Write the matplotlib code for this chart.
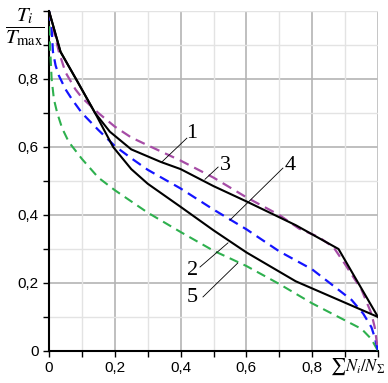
import matplotlib
matplotlib.use("Agg")
import matplotlib.pyplot as plt
from matplotlib.ticker import MultipleLocator, FixedLocator, FuncFormatter

# curve 1 and 2 (solid black), 3 (purple), 4 (blue), 5 (green)
x1 = [0, 0.035, 0.085, 0.14, 0.185, 0.25, 0.34, 0.4, 0.5, 0.6, 0.75, 0.88, 1.0]
y1 = [1.0, 0.88, 0.795, 0.70, 0.645, 0.593, 0.556, 0.535, 0.485, 0.44, 0.37, 0.30, 0.10]

x2 = [0, 0.035, 0.085, 0.14, 0.195, 0.25, 0.3, 0.4, 0.5, 0.6, 0.75, 1.0]
y2 = [1.0, 0.88, 0.795, 0.70, 0.60, 0.535, 0.492, 0.424, 0.355, 0.29, 0.205, 0.10]

x3 = [0, 0.01, 0.02, 0.03, 0.05, 0.08, 0.1, 0.15, 0.2, 0.25, 0.3, 0.4, 0.5, 0.6, 0.7,
      0.76, 0.82, 0.865, 0.9, 0.95, 0.98, 0.99, 1.0]
y3 = [1.0, 0.96, 0.92, 0.88, 0.82, 0.77, 0.745, 0.70, 0.66, 0.628, 0.605, 0.56, 0.51,
      0.452, 0.40, 0.36, 0.335, 0.305, 0.255, 0.18, 0.11, 0.07, 0.0]

x4 = [0, 0.008, 0.012, 0.02, 0.03, 0.05, 0.07, 0.1, 0.15, 0.2, 0.25, 0.3, 0.4, 0.5,
      0.6, 0.7, 0.8, 0.88, 0.92, 0.955, 0.98, 0.99, 1.0]
y4 = [1.0, 0.95, 0.88, 0.84, 0.81, 0.77, 0.74, 0.70, 0.65, 0.603, 0.567, 0.533, 0.478,
      0.416, 0.358, 0.293, 0.24, 0.18, 0.15, 0.11, 0.07, 0.04, 0.0]

x5 = [0, 0.003, 0.008, 0.015, 0.025, 0.04, 0.06, 0.08, 0.1, 0.15, 0.2, 0.3, 0.4, 0.5,
      0.6, 0.7, 0.8, 0.9, 0.95, 0.98, 1.0]
y5 = [1.0, 0.9, 0.8, 0.74, 0.70, 0.655, 0.615, 0.59, 0.565, 0.51, 0.473, 0.407, 0.35,
      0.295, 0.25, 0.197, 0.14, 0.09, 0.065, 0.035, 0.0]

curve_labels = ["1", "2", "3", "4", "5"]
label_pos = [(0.435, 0.641), (0.435, 0.238), (0.535, 0.547), (0.733, 0.547), (0.435, 0.156)]
leader_from = [(0.419, 0.626), (0.459, 0.247), (0.514, 0.541), (0.711, 0.538), (0.468, 0.159)]
leader_to = [(0.343, 0.556), (0.544, 0.318), (0.474, 0.505), (0.55, 0.385), (0.574, 0.259)]

xticks = [0, 0.2, 0.4, 0.6, 0.8]
yticks = [0, 0.2, 0.4, 0.6, 0.8]

plt.rcParams["mathtext.fontset"] = "stix"

fig = plt.figure(figsize=(3.88, 3.83), dpi=100)
ax = fig.add_axes([49 / 388, 32 / 383, 329 / 388, 340 / 383])

ax.plot(x5, y5, color="#2eb04e", lw=1.5, dashes=(4.5, 2.8), zorder=3)
ax.plot(x4, y4, color="#1414ff", lw=1.6, dashes=(4.5, 2.8), zorder=3)
ax.plot(x3, y3, color="#a64ca6", lw=1.6, dashes=(4.5, 2.8), zorder=3)
ax.plot(x2, y2, color="black", lw=1.5, zorder=4)
ax.plot(x1, y1, color="black", lw=1.5, zorder=4)

for t, p, a, b in zip(curve_labels, label_pos, leader_from, leader_to):
    ax.plot([a[0], b[0]], [a[1], b[1]], color="black", lw=0.6, zorder=5)
    ax.text(p[0], p[1], t, fontsize=16, family="Liberation Serif",
            ha="center", va="center", zorder=5)

ax.set_xlim(0, 1)
ax.set_ylim(0, 1)
ax.xaxis.set_major_locator(FixedLocator(xticks))
ax.yaxis.set_major_locator(FixedLocator(yticks))
ax.xaxis.set_minor_locator(MultipleLocator(0.1))
ax.yaxis.set_minor_locator(MultipleLocator(0.1))
fmt = FuncFormatter(lambda v, p: "0" if v == 0 else ("%.1f" % v).replace(".", ","))
ax.xaxis.set_major_formatter(fmt)
ax.yaxis.set_major_formatter(fmt)

ax.grid(which="minor", color="#e3e3e3", lw=1.0, zorder=0)
for v in [0.2, 0.4, 0.6, 0.8, 1.0]:
    ax.axvline(v, color="#b4b4b4", lw=1.2, zorder=1)
    ax.axhline(v, color="#b4b4b4", lw=1.2, zorder=1)

ax.spines["top"].set_visible(False)
ax.spines["right"].set_visible(False)
ax.spines["left"].set_linewidth(1.5)
ax.spines["bottom"].set_linewidth(1.5)
ax.tick_params(which="both", direction="out", length=4.5, width=1, labelsize=11, pad=3)
for lab in ax.get_xticklabels() + ax.get_yticklabels():
    lab.set_family("Liberation Sans")

fig.text(25 / 388, 1 - 27 / 383, r"$\dfrac{T_i}{T_{\mathrm{max}}}$", fontsize=15,
         ha="center", va="center")
fig.text(358 / 388, 1 - 367 / 383, r"$\sum N_i/N_\Sigma$", fontsize=12,
         ha="center", va="center")

fig.savefig("out.png", dpi=100)
